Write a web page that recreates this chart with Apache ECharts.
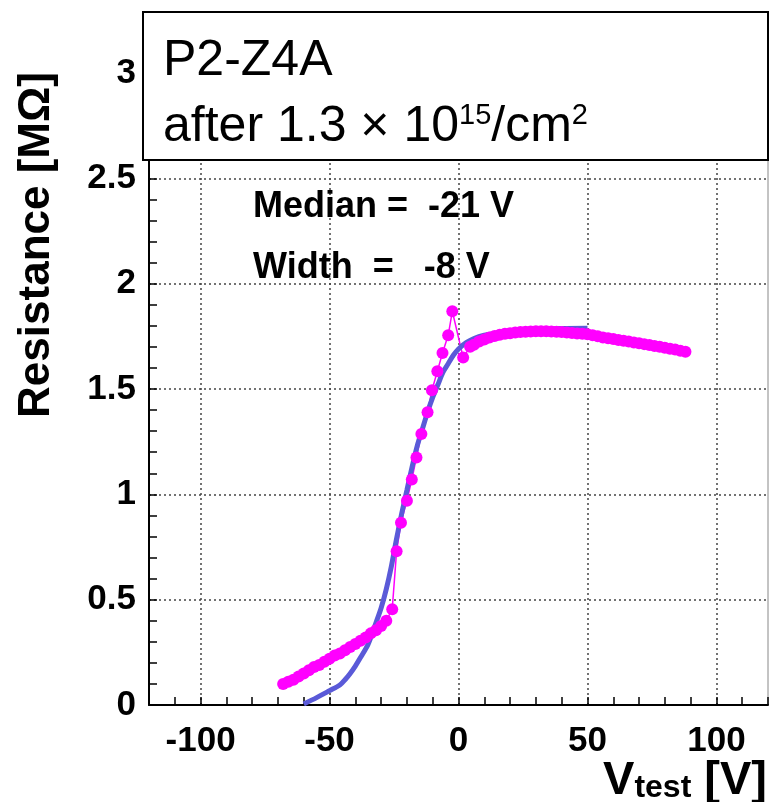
<!DOCTYPE html>
<html>
<head>
<meta charset="utf-8">
<script src="https://cdn.jsdelivr.net/npm/echarts@6.0.0/dist/echarts.min.js"></script>
<style>
  html, body { margin: 0; padding: 0; background: #fff; }
  #container { width: 771px; height: 802px; }
</style>
</head>
<body>
<div id="container"></div>
<script>
// measured points (magenta markers)
var vTest = [-68, -66, -64, -62, -60, -58, -56, -54, -52, -50, -48, -46, -44, -42, -40, -38, -36, -34, -32, -30, -28,
             -25.7, -24, -22.3, -20, -18.1, -16.3, -14.4, -12, -10.3, -8.2, -6.2, -4, -2.4, 1.8, 4.5,
             6, 8, 10, 12, 14, 16, 18, 20, 22, 24, 26, 28, 30, 32, 34, 36, 38, 40, 42, 44, 46, 48, 50,
             52, 54, 56, 58, 60, 62, 64, 66, 68, 70, 72, 74, 76, 78, 80, 82, 84, 86, 88];
var resist = [0.10, 0.11, 0.12, 0.135, 0.15, 0.165, 0.18, 0.19, 0.205, 0.22, 0.235, 0.245, 0.26, 0.275, 0.29, 0.305, 0.32, 0.34, 0.355, 0.375, 0.40,
              0.455, 0.73, 0.865, 0.97, 1.07, 1.175, 1.286, 1.39, 1.494, 1.584, 1.671, 1.755, 1.869, 1.65, 1.70,
              1.71, 1.725, 1.735, 1.745, 1.752, 1.757, 1.762, 1.765, 1.768, 1.77, 1.772, 1.773, 1.774, 1.774, 1.774, 1.773, 1.772, 1.770, 1.768, 1.766, 1.764, 1.762, 1.760,
              1.755, 1.750, 1.745, 1.741, 1.737, 1.733, 1.729, 1.725, 1.721, 1.717, 1.713, 1.709, 1.704, 1.700, 1.696, 1.691, 1.687, 1.682, 1.677];

// fitted curve (blue)
var fitV = [-60, -55, -50, -46, -44, -42, -40, -38, -35, -32, -30, -28, -26, -24, -22, -20, -18, -16, -14, -12, -10, -8, -6, -4, -2, 0, 3, 6, 10, 15, 20, 30, 40, 50];
var fitR = [0.005, 0.035, 0.068, 0.095, 0.12, 0.15, 0.185, 0.225, 0.29, 0.39, 0.46, 0.55, 0.66, 0.79, 0.91, 1.02, 1.13, 1.23, 1.31, 1.39, 1.46, 1.52, 1.58, 1.62, 1.66, 1.69, 1.72, 1.74, 1.755, 1.765, 1.775, 1.783, 1.787, 1.788];

var xMajor = [-100, -50, 0, 50, 100];

var dot = '#444';
var none = 'rgba(0,0,0,0)';
var labelFont = { fontSize: 35, fontWeight: 'bold', fontFamily: 'Liberation Sans', color: '#000' };

var myChart = echarts.init(document.getElementById('container'));
var option = {
    animation: false,
    grid: { left: 149, right: 2, top: 73, bottom: 97, show: true, borderColor: '#888', borderWidth: 1 },
    xAxis: {
        type: 'value', min: -120, max: 120, interval: 10,
        axisLine: { show: true, onZero: false, lineStyle: { color: '#000', width: 2 } },
        axisTick: { show: true, inside: true, length: 8, lineStyle: { color: '#000', width: 1.5 } },
        axisLabel: Object.assign({
            margin: 19,
            formatter: function (v) { return xMajor.indexOf(v) >= 0 ? String(v) : ''; }
        }, labelFont),
        splitLine: { show: true, lineStyle: { color: [none, none, dot, none, none], type: [2, 3], width: 1.5 } }
    },
    yAxis: {
        type: 'value', min: 0, max: 3, interval: 0.1,
        axisLine: { show: true, onZero: false, lineStyle: { color: '#000', width: 2 } },
        axisTick: { show: true, inside: true, length: 8, lineStyle: { color: '#000', width: 1.5 } },
        axisLabel: Object.assign({
            margin: 13,
            formatter: function (v) {
                var k = Math.round(v * 10);
                return k % 5 === 0 ? String(k / 10) : '';
            }
        }, labelFont),
        splitLine: { show: true, lineStyle: { color: [dot, none, none, none, none], type: [2, 3], width: 1.5 } }
    },
    series: [
        {
            type: 'line',
            data: vTest.map(function (v, i) { return [v, resist[i]]; }),
            symbol: 'circle', symbolSize: 12, showAllSymbol: true,
            itemStyle: { color: '#ff00ff' },
            lineStyle: { color: '#ff00ff', width: 1.5 }
        },
        {
            type: 'line',
            data: fitV.map(function (v, i) { return [v, fitR[i]]; }),
            showSymbol: false, smooth: 0.3,
            lineStyle: { color: '#5a5ad8', width: 5 }
        }
    ],
    graphic: [
        { type: 'rect', z: 100, shape: { x: 143, y: 12, width: 625, height: 148 },
          style: { fill: '#fff', stroke: '#000', lineWidth: 2 } },
        { type: 'text', z: 101, x: 163, y: 61,
          style: { text: 'P2-Z4A', fontSize: 50, fontFamily: 'Liberation Sans', fill: '#000',
                   verticalAlign: 'middle', textVerticalAlign: 'middle' } },
        { type: 'text', z: 101, x: 163, y: 101,
          style: { text: '{a|after 1.3 × 10}{s|15}{a|/cm}{s|2}', fill: '#000',
                   verticalAlign: 'top', textVerticalAlign: 'top',
                   rich: {
                       a: { fontSize: 50, fontFamily: 'Liberation Sans', lineHeight: 52, verticalAlign: 'middle' },
                       s: { fontSize: 29, fontFamily: 'Liberation Sans', lineHeight: 29, verticalAlign: 'top' }
                   } } },
        { type: 'text', z: 101, x: 253, y: 207,
          style: { text: 'Median =  -21 V', fontSize: 36, fontWeight: 'bold', fontFamily: 'Liberation Sans', fill: '#000',
                   verticalAlign: 'middle', textVerticalAlign: 'middle' } },
        { type: 'text', z: 101, x: 253, y: 268,
          style: { text: 'Width  =   -8 V', fontSize: 36, fontWeight: 'bold', fontFamily: 'Liberation Sans', fill: '#000',
                   verticalAlign: 'middle', textVerticalAlign: 'middle' } },
        { type: 'text', z: 101, x: 37, y: 245, rotation: Math.PI / 2,
          style: { text: 'Resistance [MΩ]', fontSize: 44, fontWeight: 'bold', fontFamily: 'Liberation Sans', fill: '#000',
                   align: 'center', textAlign: 'center', verticalAlign: 'middle', textVerticalAlign: 'middle' } },
        { type: 'text', z: 101, x: 767, y: 758,
          style: { text: '{v|V}{t|test}{v| [V]}', fill: '#000',
                   align: 'right', textAlign: 'right', verticalAlign: 'top', textVerticalAlign: 'top',
                   rich: {
                       v: { fontSize: 47, fontWeight: 'bold', fontFamily: 'Liberation Sans', lineHeight: 46, verticalAlign: 'middle' },
                       t: { fontSize: 32, fontWeight: 'bold', fontFamily: 'Liberation Sans', lineHeight: 32, verticalAlign: 'bottom' }
                   } } }
    ]
};

if (option && typeof option === 'object') {
    myChart.setOption(option);
}
</script>
</body>
</html>
